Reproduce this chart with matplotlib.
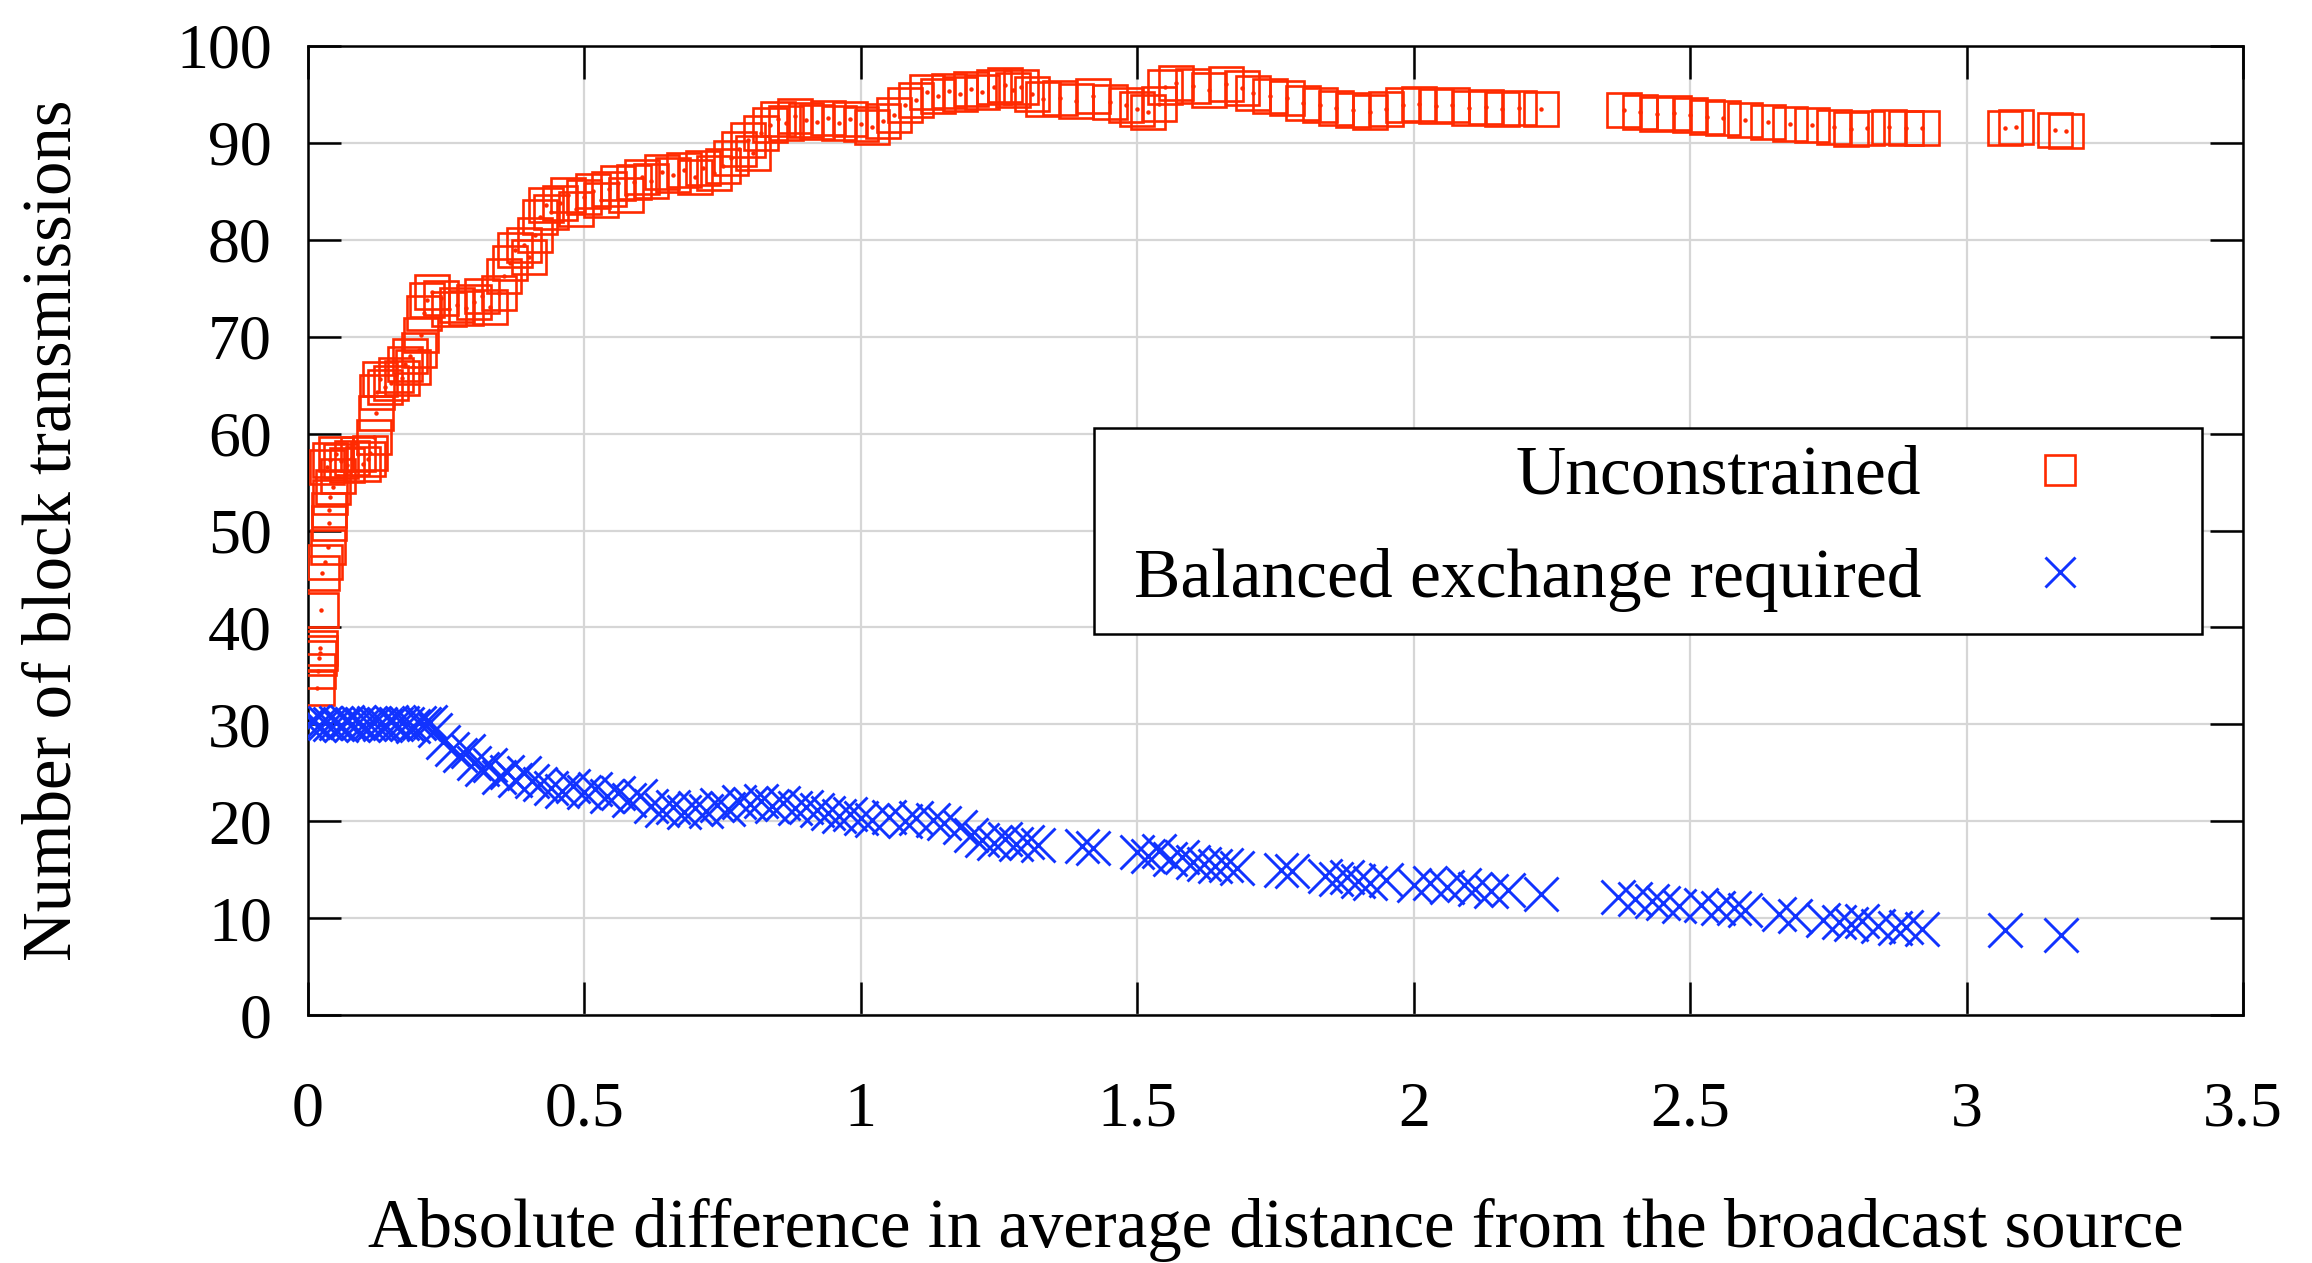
"""Block transmissions vs. distance difference (gnuplot-style scatter)."""

import matplotlib

matplotlib.use("Agg")
import matplotlib.pyplot as plt
from matplotlib.patches import Rectangle

plt.rcParams["font.family"] = ["Liberation Serif", "DejaVu Serif"]

# Unconstrained: (distance difference, block transmissions)
unconstrained_x = [
    0.016, 0.018, 0.020, 0.022, 0.022, 0.024, 0.025, 0.030, 0.036, 0.038, 0.038, 0.040,
    0.045, 0.055, 0.035, 0.040, 0.050, 0.060, 0.070, 0.080, 0.090, 0.100, 0.108, 0.112,
    0.120, 0.123, 0.125, 0.130, 0.140, 0.150, 0.160, 0.170, 0.175, 0.185, 0.190, 0.200,
    0.205, 0.210, 0.215, 0.225, 0.240, 0.255, 0.270, 0.285, 0.300, 0.315, 0.330, 0.345,
    0.355, 0.365, 0.375, 0.390, 0.400, 0.410, 0.420, 0.430, 0.440, 0.455, 0.470, 0.485,
    0.500, 0.515, 0.530, 0.545, 0.560, 0.575, 0.590, 0.605, 0.620, 0.640, 0.660, 0.680,
    0.700, 0.715, 0.735, 0.750, 0.765, 0.780, 0.795, 0.805, 0.820, 0.835, 0.850, 0.865,
    0.880, 0.900, 0.920, 0.940, 0.960, 0.980, 1.000, 1.020, 1.040, 1.060, 1.080, 1.100,
    1.120, 1.140, 1.160, 1.180, 1.200, 1.220, 1.240, 1.260, 1.275, 1.290, 1.310, 1.330,
    1.360, 1.390, 1.420, 1.450, 1.480, 1.500, 1.520, 1.540, 1.550, 1.570, 1.600, 1.630,
    1.660, 1.690, 1.710, 1.740, 1.770, 1.800, 1.830, 1.860, 1.890, 1.920, 1.950, 1.980,
    2.010, 2.040, 2.070, 2.100, 2.130, 2.160, 2.190, 2.230, 2.380, 2.410, 2.440, 2.470,
    2.500, 2.530, 2.560, 2.600, 2.640, 2.680, 2.720, 2.760, 2.790, 2.820, 2.860, 2.890,
    2.920, 3.070, 3.090, 3.160, 3.180,
]
unconstrained_y = [
    33.7, 35.5, 36.8, 37.4, 37.9, 41.8, 45.6, 46.8, 48.3, 50.8, 52.1, 53.5,
    54.5, 55.6, 56.6, 57.3, 57.9, 57.2, 56.8, 57.5, 57.9, 56.9, 57.4, 58.0,
    59.6, 62.1, 64.3, 65.6, 64.8, 65.2, 66.0, 65.7, 67.2, 68.0, 66.9, 68.6,
    70.2, 72.4, 73.8, 74.6, 74.0, 72.9, 73.3, 73.0, 73.6, 74.2, 73.1, 74.5,
    76.3, 77.6, 78.9, 79.5, 78.2, 80.5, 82.4, 83.6, 82.9, 83.8, 84.6, 83.2,
    84.4, 85.0, 84.1, 85.2, 85.9, 84.6, 86.0, 86.5, 86.1, 87.0, 86.7, 87.2,
    86.5, 87.4, 86.9, 87.6, 88.4, 89.4, 90.3, 89.0, 91.0, 91.8, 92.5, 92.1,
    92.8, 92.4, 92.2, 92.6, 92.1, 92.5, 92.0, 91.6, 92.3, 92.9, 93.9, 94.4,
    95.2, 94.8, 95.4, 95.0, 95.6, 95.3, 95.8, 96.0, 95.5, 95.8, 95.0, 94.5,
    94.6, 94.3, 94.8, 94.2, 93.9, 93.5, 93.2, 94.0, 95.8, 96.2, 95.9, 95.5,
    96.1, 95.7, 95.1, 94.8, 94.6, 94.1, 93.9, 93.6, 93.4, 93.2, 93.5, 93.9,
    94.0, 93.8, 93.9, 93.6, 93.7, 93.5, 93.6, 93.5, 93.4, 93.2, 93.0, 93.1,
    92.9, 92.7, 92.6, 92.4, 92.2, 92.0, 91.8, 91.6, 91.4, 91.5, 91.6, 91.5,
    91.5, 91.5, 91.6, 91.3, 91.2,
]

# Balanced exchange required
balanced_x = [
    0.00, 0.01, 0.02, 0.03, 0.04, 0.05, 0.06, 0.07, 0.08, 0.09, 0.10, 0.11,
    0.12, 0.13, 0.14, 0.15, 0.16, 0.17, 0.18, 0.19, 0.20, 0.21, 0.22, 0.23,
    0.245, 0.26, 0.275, 0.29, 0.30, 0.315, 0.33, 0.345, 0.36, 0.375, 0.39, 0.405,
    0.42, 0.44, 0.46, 0.48, 0.50, 0.52, 0.54, 0.56, 0.58, 0.60, 0.62, 0.64,
    0.66, 0.68, 0.70, 0.72, 0.74, 0.76, 0.78, 0.80, 0.82, 0.84, 0.86, 0.88,
    0.90, 0.92, 0.94, 0.96, 0.98, 1.00, 1.02, 1.05, 1.08, 1.10, 1.13, 1.15,
    1.18, 1.20, 1.22, 1.24, 1.26, 1.28, 1.30, 1.32, 1.40, 1.42, 1.50, 1.52,
    1.54, 1.56, 1.58, 1.60, 1.62, 1.64, 1.66, 1.68, 1.76, 1.78, 1.84, 1.86,
    1.88, 1.90, 1.92, 1.95, 2.00, 2.03, 2.06, 2.09, 2.11, 2.14, 2.17, 2.23,
    2.37, 2.40, 2.43, 2.45, 2.48, 2.52, 2.55, 2.58, 2.60, 2.66, 2.69, 2.74,
    2.77, 2.79, 2.81, 2.84, 2.87, 2.89, 2.92, 3.07, 3.17,
]
balanced_y = [
    30.0, 30.2, 29.9, 30.1, 30.0, 30.1, 29.9, 30.2, 30.0, 30.1, 29.9, 30.0,
    30.1, 30.0, 29.9, 30.2, 30.0, 30.1, 30.0, 29.8, 30.1, 30.0, 30.2, 29.4,
    28.2, 27.5, 26.8, 27.2, 26.0, 25.4, 25.8, 24.6, 25.1, 24.3, 25.0, 24.2,
    23.8, 23.4, 23.1, 23.6, 23.0, 23.3, 22.6, 22.9, 22.2, 22.6, 21.6, 21.2,
    21.5, 21.0, 21.4, 21.1, 21.7, 21.3, 22.0, 21.8, 22.1, 21.6, 21.9, 21.4,
    21.5, 21.2, 20.9, 20.5, 20.7, 20.3, 20.1, 20.4, 20.0, 20.3, 20.1, 19.8,
    19.4, 18.6, 18.1, 17.8, 18.2, 17.7, 17.9, 17.6, 17.4, 17.2, 16.8, 16.4,
    16.9, 16.1, 16.3, 15.8, 15.6, 15.4, 15.5, 15.2, 15.0, 14.9, 14.3, 14.0,
    14.2, 13.8, 13.6, 13.9, 13.4, 13.6, 13.2, 13.4, 13.0, 12.8, 12.9, 12.5,
    12.2, 12.0, 11.8, 11.6, 11.3, 11.4, 11.0, 11.1, 10.8, 10.4, 10.2, 9.8,
    9.6, 9.4, 9.7, 9.2, 9.0, 9.1, 8.9, 8.8, 8.3,
]

x_ticks = [0, 0.5, 1, 1.5, 2, 2.5, 3, 3.5]
x_tick_labels = ["0", "0.5", "1", "1.5", "2", "2.5", "3", "3.5"]
y_ticks = list(range(0, 101, 10))

RED = "#ff2a00"
BLUE = "#1133ff"

fig = plt.figure(figsize=(23.12, 12.63), dpi=100)
ax = fig.add_axes([0.1332, 0.1963, 0.8370, 0.7673])

ax.plot(unconstrained_x, unconstrained_y, linestyle="none", marker="s", markersize=25,
        markerfacecolor="none", markeredgecolor=RED, markeredgewidth=1.9,
        label="Unconstrained", zorder=3)
ax.plot(unconstrained_x, unconstrained_y, linestyle="none", marker="o", markersize=2.2,
        color=RED, zorder=3)
ax.plot(balanced_x, balanced_y, linestyle="none", marker="x", markersize=25,
        markeredgecolor=BLUE, markeredgewidth=2.1,
        label="Balanced exchange required", zorder=3)

ax.set_xlim(0, 3.5)
ax.set_ylim(0, 100)
ax.set_xticks(x_ticks)
ax.set_xticklabels(x_tick_labels)
ax.set_yticks(y_ticks)

ax.grid(True, color="#d6d6d6", linewidth=1.6, zorder=0)
ax.set_axisbelow(True)
for spine in ax.spines.values():
    spine.set_linewidth(1.8)
ax.tick_params(direction="in", length=24, width=1.8, top=True, right=True,
               labelsize=46)
ax.tick_params(axis="x", pad=48)
ax.tick_params(axis="y", pad=26)

ax.set_xlabel("Absolute difference in average distance from the broadcast source",
              fontsize=49.5, labelpad=42)
ax.set_ylabel("Number of block transmissions", fontsize=49.5, labelpad=65)

# legend: square white box with right-aligned labels and markers on the right
ax.add_patch(Rectangle((0.4062, 0.3932), 0.5726, 0.2126, transform=ax.transAxes,
                       facecolor="white", edgecolor="black", linewidth=1.8, zorder=4))
leg = ax.legend(loc="upper right", bbox_to_anchor=(0.9235, 0.588), markerfirst=False,
                numpoints=1, fontsize=50, frameon=False, handlelength=1.0,
                handletextpad=1.5, borderpad=0, labelspacing=0.56, borderaxespad=0)
leg.set_zorder(5)
for handle in leg.legend_handles:
    handle.set_markersize(22)

fig.savefig("out.png", dpi=100)
